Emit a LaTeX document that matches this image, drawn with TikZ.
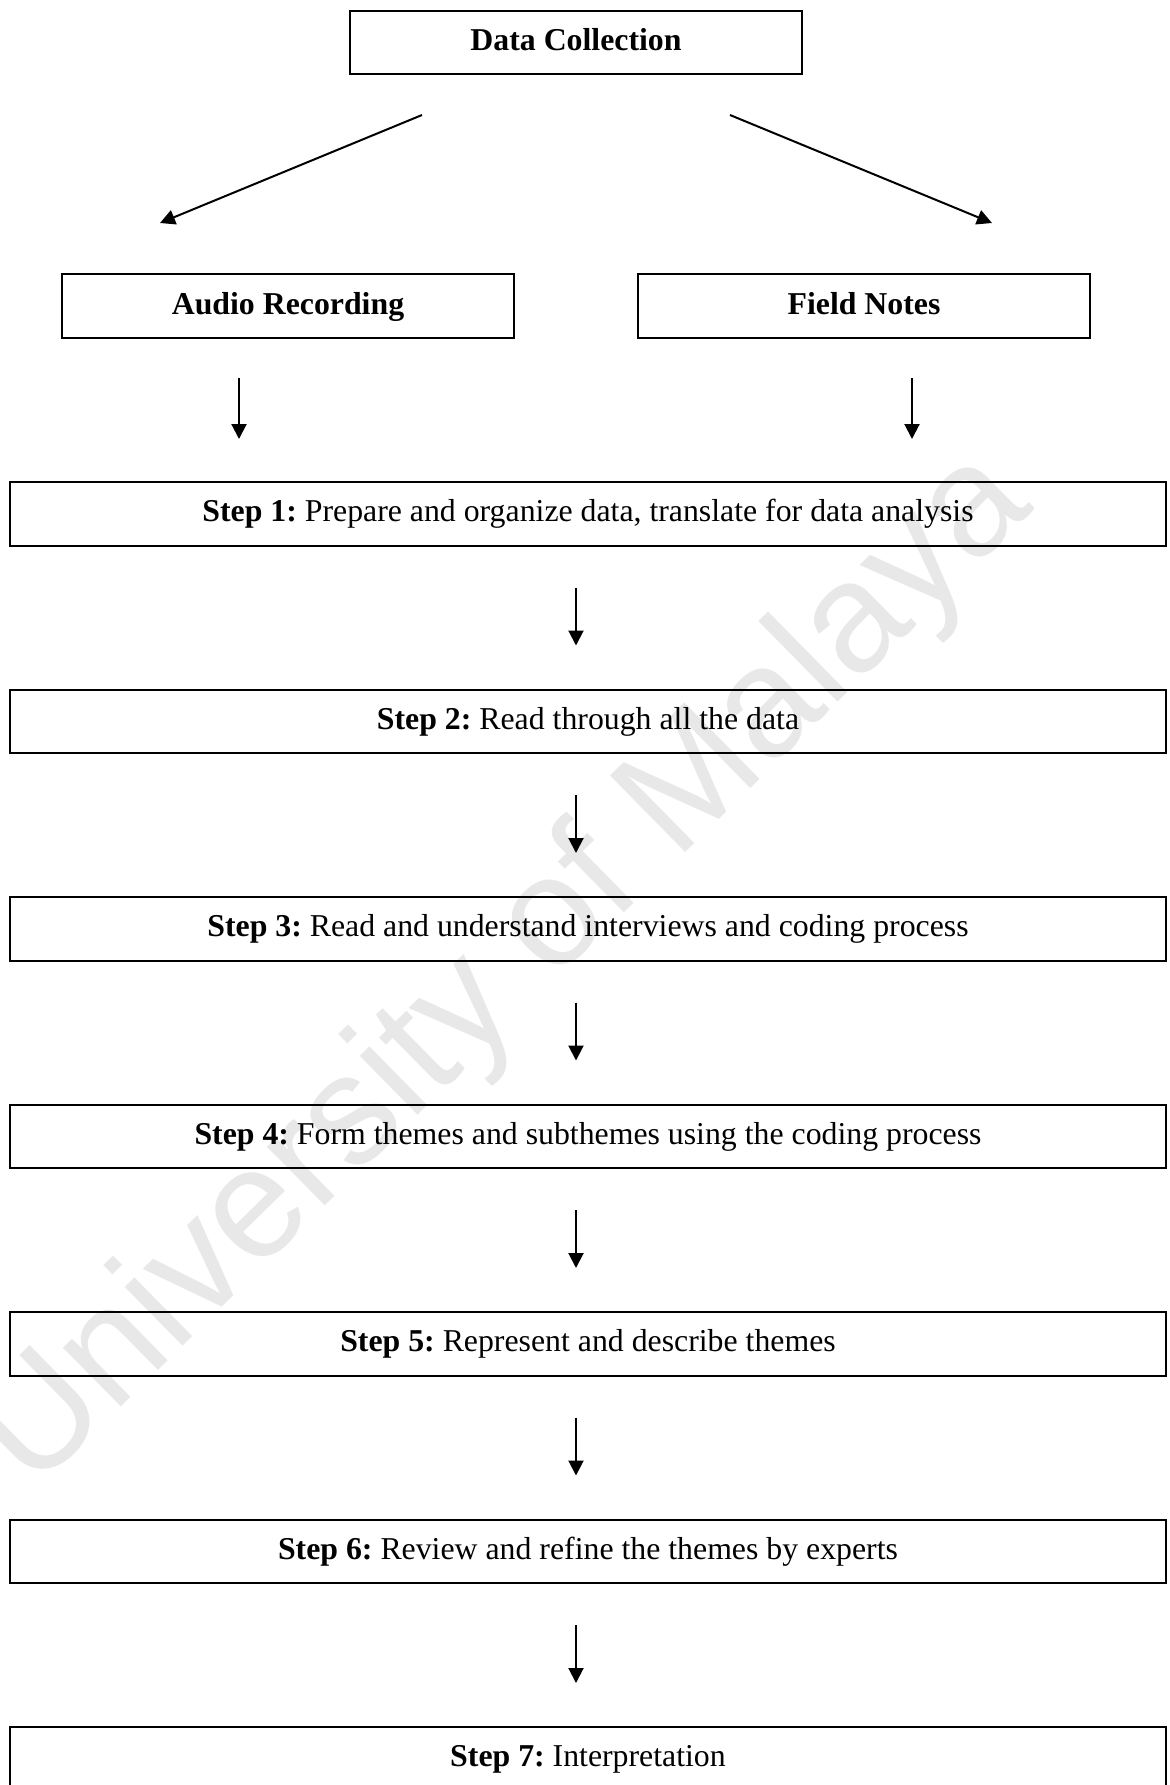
\documentclass[tikz,border=0pt]{standalone}
\usepackage{fontspec}
\setmainfont{Liberation Serif}
\newfontfamily\wmfont{Liberation Sans}
\usetikzlibrary{arrows.meta}

\begin{document}
\frenchspacing
\begin{tikzpicture}[x=0.5pt,y=-0.5pt,
  box/.style={draw=black, line width=1pt, inner sep=0pt,
    text height=11pt, text depth=3pt,
    font=\fontsize{15.9}{19}\selectfont},
  topbox/.style={box, minimum width=226pt, minimum height=31.75pt},
  stepbox/.style={box, minimum width=578pt, minimum height=31.75pt},
  arr/.style={line width=1pt, -{Triangle[length=7.5pt,width=7.5pt]}},
  steparr/.style={arr, shorten <=20.5pt, shorten >=21.5pt},
]
\useasboundingbox (0,0) rectangle (1170,1785);

% faint watermark behind everything
\node[rotate=44.5, text=black!9, inner sep=0pt,
  font=\wmfont\fontsize{78}{84}\selectfont] (wm) at (506,972) {University of Malaya};

% sources
\node[topbox] (dc) at (576,42.5) {\textbf{Data Collection}};
\node[topbox] (ar) at (288,306) {\textbf{Audio Recording}};
\node[topbox] (fn) at (864,306) {\textbf{Field Notes}};

% analysis steps
\node[stepbox] (s1) at (588,513.75) {\textbf{Step 1:} Prepare and organize data, translate for data analysis};
\node[stepbox] (s2) at (588,721.25) {\textbf{Step 2:} Read through all the data};
\node[stepbox] (s3) at (588,928.75) {\textbf{Step 3:} Read and understand interviews and coding process};
\node[stepbox] (s4) at (588,1136.25) {\textbf{Step 4:} Form themes and subthemes using the coding process};
\node[stepbox] (s5) at (588,1343.75) {\textbf{Step 5:} Represent and describe themes};
\node[stepbox] (s6) at (588,1551.25) {\textbf{Step 6:} Review and refine the themes by experts};
\node[stepbox] (s7) at (588,1758.75) {\textbf{Step 7:} Interpretation};

% free-standing arrow ends
\coordinate (a1) at (422,115);
\coordinate (a2) at (160,223);
\coordinate (b1) at (730,115);
\coordinate (b2) at (992,223);
\coordinate (c1) at (239,378);
\coordinate (c2) at (239,439);
\coordinate (d1) at (912,378);
\coordinate (d2) at (912,439);

\draw[arr] (a1) -- (a2);
\draw[arr] (b1) -- (b2);
\draw[arr] (c1) -- (c2);
\draw[arr] (d1) -- (d2);

\draw[steparr] (dc |- s1.south) -- (dc |- s2.north);
\draw[steparr] (dc |- s2.south) -- (dc |- s3.north);
\draw[steparr] (dc |- s3.south) -- (dc |- s4.north);
\draw[steparr] (dc |- s4.south) -- (dc |- s5.north);
\draw[steparr] (dc |- s5.south) -- (dc |- s6.north);
\draw[steparr] (dc |- s6.south) -- (dc |- s7.north);
\end{tikzpicture}
\end{document}
